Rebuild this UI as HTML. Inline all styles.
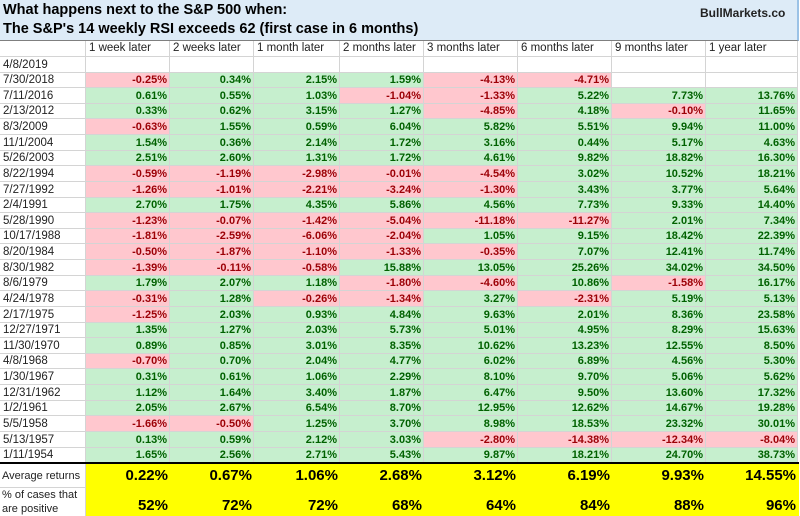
<!DOCTYPE html>
<html><head><meta charset="utf-8"><style>
body{margin:0;width:800px;height:516px;overflow:hidden;background:#fff;font-family:"Liberation Sans",Arial,sans-serif;position:relative}
#title{position:absolute;left:0;top:0;width:797px;height:40px;background:#ddebf7;border-right:2px solid #9bc2e6;border-bottom:1px solid #7f7f7f}
#title div{position:absolute;left:3px;font-weight:bold;font-size:14.5px;color:#000;white-space:nowrap}
.c{position:absolute;box-sizing:border-box;border-right:1px solid #d4d4d4;border-bottom:1px solid #d4d4d4;font-size:11px;line-height:15px;white-space:nowrap;overflow:hidden}
.n{text-align:right;padding-right:2px;font-weight:bold}
.pos{background:#c6efce;color:#006100}
.neg{background:#ffc7ce;color:#9c0006}
.h{padding-left:3px;font-size:11.5px;color:#222}
.y{background:#ffff00;font-weight:bold;font-size:15px;text-align:right;padding-right:2px;color:#000;border:none}
</style></head><body>
<div id="title"><div style="top:2px">What happens next to the S&amp;P 500 when:</div><div style="top:21px">The S&amp;P's 14 weekly RSI exceeds 62 (first case in 6 months)</div></div>
<div id="tbl"></div>
<div style="position:absolute;left:700px;top:6px;font-size:12px;font-weight:bold;color:#222">BullMarkets.co</div>
<script>
const headers=["1 week later","2 weeks later","1 month later","2 months later","3 months later","6 months later","9 months later","1 year later"];
const dates=["4/8/2019","7/30/2018","7/11/2016","2/13/2012","8/3/2009","11/1/2004","5/26/2003","8/22/1994","7/27/1992","2/4/1991","5/28/1990","10/17/1988","8/20/1984","8/30/1982","8/6/1979","4/24/1978","2/17/1975","12/27/1971","11/30/1970","4/8/1968","1/30/1967","12/31/1962","1/2/1961","5/5/1958","5/13/1957","1/11/1954"];
const values=[
[null,null,null,null,null,null,null,null],
[-0.25,0.34,2.15,1.59,-4.13,-4.71,null,null],
[0.61,0.55,1.03,-1.04,-1.33,5.22,7.73,13.76],
[0.33,0.62,3.15,1.27,-4.85,4.18,-0.10,11.65],
[-0.63,1.55,0.59,6.04,5.82,5.51,9.94,11.00],
[1.54,0.36,2.14,1.72,3.16,0.44,5.17,4.63],
[2.51,2.60,1.31,1.72,4.61,9.82,18.82,16.30],
[-0.59,-1.19,-2.98,-0.01,-4.54,3.02,10.52,18.21],
[-1.26,-1.01,-2.21,-3.24,-1.30,3.43,3.77,5.64],
[2.70,1.75,4.35,5.86,4.56,7.73,9.33,14.40],
[-1.23,-0.07,-1.42,-5.04,-11.18,-11.27,2.01,7.34],
[-1.81,-2.59,-6.06,-2.04,1.05,9.15,18.42,22.39],
[-0.50,-1.87,-1.10,-1.33,-0.35,7.07,12.41,11.74],
[-1.39,-0.11,-0.58,15.88,13.05,25.26,34.02,34.50],
[1.79,2.07,1.18,-1.80,-4.60,10.86,-1.58,16.17],
[-0.31,1.28,-0.26,-1.34,3.27,-2.31,5.19,5.13],
[-1.25,2.03,0.93,4.84,9.63,2.01,8.36,23.58],
[1.35,1.27,2.03,5.73,5.01,4.95,8.29,15.63],
[0.89,0.85,3.01,8.35,10.62,13.23,12.55,8.50],
[-0.70,0.70,2.04,4.77,6.02,6.89,4.56,5.30],
[0.31,0.61,1.06,2.29,8.10,9.70,5.06,5.62],
[1.12,1.64,3.40,1.87,6.47,9.50,13.60,17.32],
[2.05,2.67,6.54,8.70,12.95,12.62,14.67,19.28],
[-1.66,-0.50,1.25,3.70,8.98,18.53,23.32,30.01],
[0.13,0.59,2.12,3.03,-2.80,-14.38,-12.34,-8.04],
[1.65,2.56,2.71,5.43,9.87,18.21,24.70,38.73]];
const averages=[0.22,0.67,1.06,2.68,3.12,6.19,9.93,14.55];
const positivePct=[52,72,72,68,64,84,88,96];
const colX=[0,86,170,254,340,424,518,612,706,798];
const headTop=41,rowTop=57,rowH=15.62;
const tbl=document.getElementById('tbl');
function cell(x,y,w,h,cls,txt){const d=document.createElement('div');d.className='c '+cls;d.style.left=x+'px';d.style.top=y+'px';d.style.width=w+'px';d.style.height=h+'px';d.textContent=txt;tbl.appendChild(d);return d;}
let d=cell(0,headTop,86,16,'h','');


headers.forEach((t,i)=>{const e=cell(colX[i+1],headTop,colX[i+2]-colX[i+1],16,'h',t);

});
dates.forEach((dt,r)=>{const y=Math.round(rowTop+r*rowH),h=Math.round(rowTop+(r+1)*rowH)-y;
const e=cell(0,y,86,h,'h',dt);e.style.lineHeight=h+'px';


values[r].forEach((v,i)=>{const cls=v==null?'n':(v<0?'n neg':'n pos');
const c=cell(colX[i+1],y,colX[i+2]-colX[i+1],h,cls,v==null?'':v.toFixed(2)+'%');c.style.lineHeight=h+'px';

});});
const sep=document.createElement('div');sep.style.cssText='position:absolute;left:0;top:462px;width:799px;height:2px;background:#000';tbl.appendChild(sep);


let a=cell(0,464,86,24,'h','Average returns');a.style.lineHeight='24px';a.style.fontSize='11px';a.style.paddingLeft='2px';


let p=cell(0,488,86,28,'h','');p.innerHTML='% of cases that<br>are positive';p.style.lineHeight='14px';p.style.fontSize='11px';p.style.paddingLeft='2px';p.style.borderBottom='none';


const yb=document.createElement('div');yb.style.cssText='position:absolute;left:86px;top:464px;width:713px;height:52px;background:#ffff00';tbl.appendChild(yb);


averages.forEach((v,i)=>{const c=cell(colX[i+1],464,colX[i+2]-colX[i+1],24,'y',v.toFixed(2)+'%');c.style.lineHeight='24px';

});
positivePct.forEach((v,i)=>{const c=cell(colX[i+1],488,colX[i+2]-colX[i+1],28,'y',v+'%');c.style.lineHeight='36px';

});
</script>
</body></html>
